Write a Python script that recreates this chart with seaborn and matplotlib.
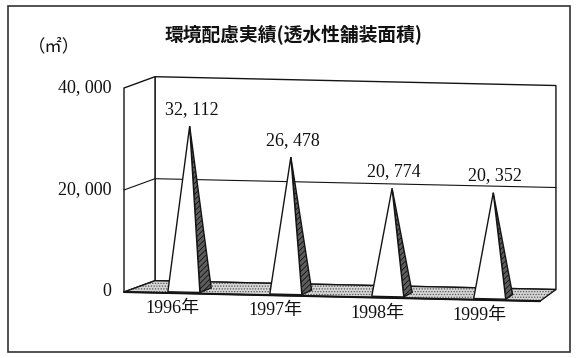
import numpy as np
import matplotlib
matplotlib.use("Agg")
import matplotlib.pyplot as plt
import seaborn as sns
from matplotlib.patches import Polygon, Rectangle
from matplotlib.transforms import Affine2D

# --- data ---
years = ["1996年", "1997年", "1998年", "1999年"]
areas = [32112, 26478, 20774, 20352]
y_ticks = [0, 20000, 40000]
y_tick_labels = ["0", "20, 000", "40, 000"]
title = "環境配慮実績(透水性舗装面積)"
unit = "（㎡）"

sns.set_theme(style="white")
SERIF = ["Liberation Serif", "Noto Sans CJK JP"]
plt.rcParams["font.family"] = SERIF
plt.rcParams["hatch.linewidth"] = 0.6

W_PX, H_PX, DPI = 576, 358, 100
fig = plt.figure(figsize=(W_PX / DPI, H_PX / DPI), dpi=DPI)
fig.patch.set_facecolor("white")
ax = fig.add_axes([0, 0, 1, 1])
ax.set_xlim(-1.769, 3.861)
ax.set_ylim(-12941, 57255)
ax.axis("off")

# slight downward slant to the right of the whole plot box
K = 0.022
shear = Affine2D(np.array([[1, 0, 0], [-K, 1, K * 124], [0, 0, 1]]))
T = ax.transData + shear

# oblique 3-D box: front plane spans XL..XR, back plane offset in depth
XL, XR = -0.557, 3.509
YMAX = y_ticks[-1]
DYW = 2350


def dxw(x):
    return 0.303 + (0.156 - 0.303) * (x - XL) / (XR - XL)


def proj(x, v, z):
    return (x + z * dxw(x), v + z * DYW)


LW = 1.0
EDGE = "#141414"


def poly(pts, fc="white", hatch=None, hc=EDGE, lw=LW, z=1):
    if hatch:
        ax.add_patch(Polygon(pts, closed=True, facecolor=fc, edgecolor=hc,
                             hatch=hatch, lw=0, transform=T, zorder=z))
        ax.add_patch(Polygon(pts, closed=True, fill=False, edgecolor=EDGE,
                             lw=lw, transform=T, zorder=z))
    else:
        ax.add_patch(Polygon(pts, closed=True, facecolor=fc, edgecolor=EDGE,
                             lw=lw, transform=T, zorder=z))


# back wall and left wall
poly([proj(XL, 0, 1), proj(XR, 0, 1), proj(XR, YMAX, 1), proj(XL, YMAX, 1)], z=1)
poly([proj(XL, 0, 0), proj(XL, 0, 1), proj(XL, YMAX, 1), proj(XL, YMAX, 0)], z=1)

# gridlines for intermediate ticks
for v in y_ticks[1:-1]:
    pts = [proj(XL, v, 0), proj(XL, v, 1), proj(XR, v, 1)]
    ax.plot([p[0] for p in pts], [p[1] for p in pts], color=EDGE, lw=0.8,
            transform=T, zorder=2)

# floor
poly([proj(XL, 0, 0), proj(XR, 0, 0), proj(XR, 0, 1), proj(XL, 0, 1)],
     fc="#d6d6d6", hatch="......", hc="#555555", z=3)
ax.plot([proj(XL, 0, 0)[0], proj(XR, 0, 0)[0]], [0, 0], color=EDGE, lw=1.5,
        transform=T, zorder=3)

# pyramids
W = 0.157
Z0, Z1 = 0.10, 0.50
ZM = (Z0 + Z1) / 2
for i, (yr, v) in enumerate(zip(years, areas)):
    c = i
    apex = proj(c, v, ZM)
    front = [proj(c - W, 0, Z0), proj(c + W, 0, Z0), apex]
    side = [proj(c + W, 0, Z0), proj(c + W, 0, Z1), apex]
    poly(side, fc="#5e5e5e", hatch="//////", hc="#111111", z=5)
    poly(front, fc="white", z=6)
    ax.text(apex[0] + 0.02, apex[1] + 3300, f"{v:,}".replace(",", ", "),
            ha="center", va="center", fontsize=13, color="#111",
            transform=T, zorder=7)
    ax.text(c - 0.08, -3050, yr, ha="center", va="center", fontsize=13,
            color="#111", transform=T, zorder=7)

# value axis labels
for v, lab in zip(y_ticks, y_tick_labels):
    ax.text(-0.684, v, lab, ha="right", va="center", fontsize=13,
            color="#111", transform=T)

# title and unit
fig.text(294 / W_PX, 1 - 34 / H_PX, title, ha="center", va="center",
         fontsize=13.5, fontweight="bold", family=["Noto Sans CJK JP"],
         color="#111")
fig.text(54 / W_PX, 1 - 46 / H_PX, unit, ha="center", va="center",
         fontsize=12.5, family=["Noto Sans CJK JP"], color="#111")

# outer frame
fig.add_artist(Rectangle((8 / W_PX, 6 / H_PX), 562 / W_PX, 346 / H_PX,
                         transform=fig.transFigure, fill=False,
                         edgecolor="#333", lw=1.2))

fig.savefig("out.png", dpi=DPI, facecolor="white")
